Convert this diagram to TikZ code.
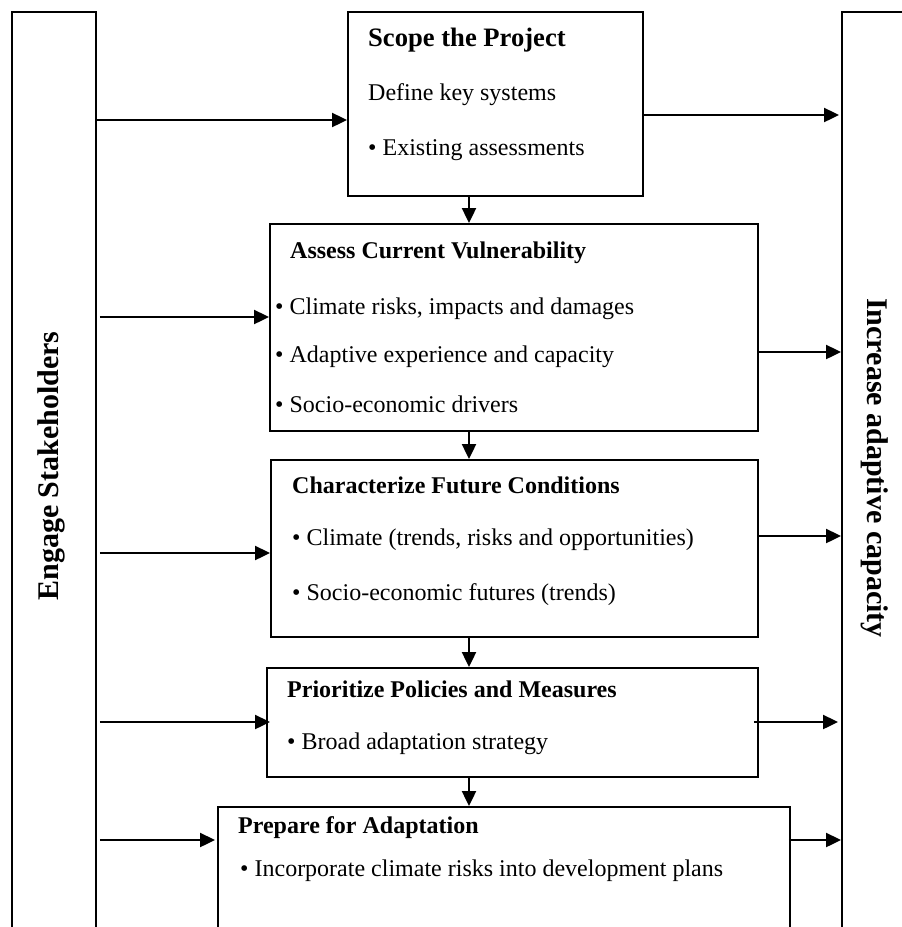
\documentclass[tikz,border=0pt]{standalone}
\usepackage{fontspec}
\setmainfont{Liberation Serif}
\usetikzlibrary{arrows.meta}
\tikzset{
  box/.style={draw, line width=1.8pt, rectangle, inner sep=0pt, anchor=north west},
  col/.style={draw, line width=1.8pt, rectangle, inner sep=0pt, anchor=north west},
  arr/.style={line width=2.4pt, -{Triangle[length=15pt,width=14pt]}},
  txt/.style={anchor=base west, inner sep=0pt, font=\fontsize{24}{28}\selectfont},
  ttl/.style={anchor=base west, inner sep=0pt, font=\fontsize{24}{28}\selectfont\bfseries},
  side/.style={inner sep=0pt, font=\fontsize{30}{34}\selectfont\bfseries}
}
\begin{document}
\begin{tikzpicture}[x=1pt,y=-1pt]
\useasboundingbox (0,0) rectangle (902,927);
\clip (0,0) rectangle (902,927);
% side columns
\node[col, minimum width=84pt, minimum height=1000pt] (L) at (11,11) {};
\node[col, minimum width=120pt, minimum height=1000pt] (R) at (841,11) {};
\node[side, rotate=90] (Lt) at (51,466) {Engage Stakeholders};
\node[side, rotate=-90] (Rt) at (875,468) {Increase adaptive capacity};
% boxes
\node[box, minimum width=295pt, minimum height=184pt] (scope) at (347,11) {};
\node[box, minimum width=488pt, minimum height=207pt] (assess) at (269,223) {};
\node[box, minimum width=487pt, minimum height=177pt] (char) at (270,459) {};
\node[box, minimum width=491pt, minimum height=109pt] (prio) at (266,667) {};
\node[box, minimum width=572pt, minimum height=200pt] (prep) at (217,806) {};
% texts
\node[ttl, font=\fontsize{26.6}{30}\selectfont\bfseries] (s1) at (368,46.7) {Scope the Project};
\node[txt] (s2) at (368,100) {Define key systems};
\node[txt] (s3) at (368,155) {• Existing assessments};
\node[ttl] (a1) at (290,258) {Assess Current Vulnerability};
\node[txt] (a2) at (275,314) {• Climate risks, impacts and damages};
\node[txt] (a3) at (275,362) {• Adaptive experience and capacity};
\node[txt] (a4) at (275,412) {• Socio-economic drivers};
\node[ttl] (c1) at (292,493) {Characterize Future Conditions};
\node[txt] (c2) at (292,545) {• Climate (trends, risks and opportunities)};
\node[txt] (c3) at (292,600) {• Socio-economic futures (trends)};
\node[ttl] (p1) at (287,697) {Prioritize Policies and Measures};
\node[txt] (p2) at (287,749) {• Broad adaptation strategy};
\node[ttl] (q1) at (238,833) {Prepare for Adaptation};
\node[txt] (q2) at (240,876) {• Incorporate climate risks into development plans};
% vertical flow arrows
\coordinate (ax) at (469,0);
\draw[arr] (scope.south -| ax) -- (assess.north -| ax);
\draw[arr] (assess.south -| ax) -- (char.north -| ax);
\draw[arr] (char.south -| ax) -- (prio.north -| ax);
\draw[arr] (prio.south -| ax) -- (prep.north -| ax);
% left arrows
\coordinate (y1) at (0,120);
\coordinate (y2) at (0,317);
\coordinate (y3) at (0,553);
\coordinate (y4) at (0,722);
\coordinate (y5) at (0,840);
\draw[arr] (L.east |- y1) -- (scope.west |- y1);
\draw[arr] ([xshift=3pt]L.east |- y2) -- (assess.west |- y2);
\draw[arr] ([xshift=3pt]L.east |- y3) -- (char.west |- y3);
\draw[arr] ([xshift=3pt]L.east |- y4) -- ([xshift=4pt]prio.west |- y4);
\draw[arr] ([xshift=3pt]L.east |- y5) -- ([xshift=-2pt]prep.west |- y5);
% right arrows
\coordinate (z1) at (0,115);
\coordinate (z2) at (0,352);
\coordinate (z3) at (0,536);
\coordinate (z4) at (0,722);
\coordinate (z5) at (0,840);
\draw[arr] (scope.east |- z1) -- ([xshift=-2pt]R.west |- z1);
\draw[arr] (assess.east |- z2) -- (R.west |- z2);
\draw[arr] (char.east |- z3) -- (R.west |- z3);
\draw[arr] ([xshift=-5pt]prio.east |- z4) -- ([xshift=-3pt]R.west |- z4);
\draw[arr] ([xshift=-2pt]prep.east |- z5) -- (R.west |- z5);
\end{tikzpicture}
\end{document}
